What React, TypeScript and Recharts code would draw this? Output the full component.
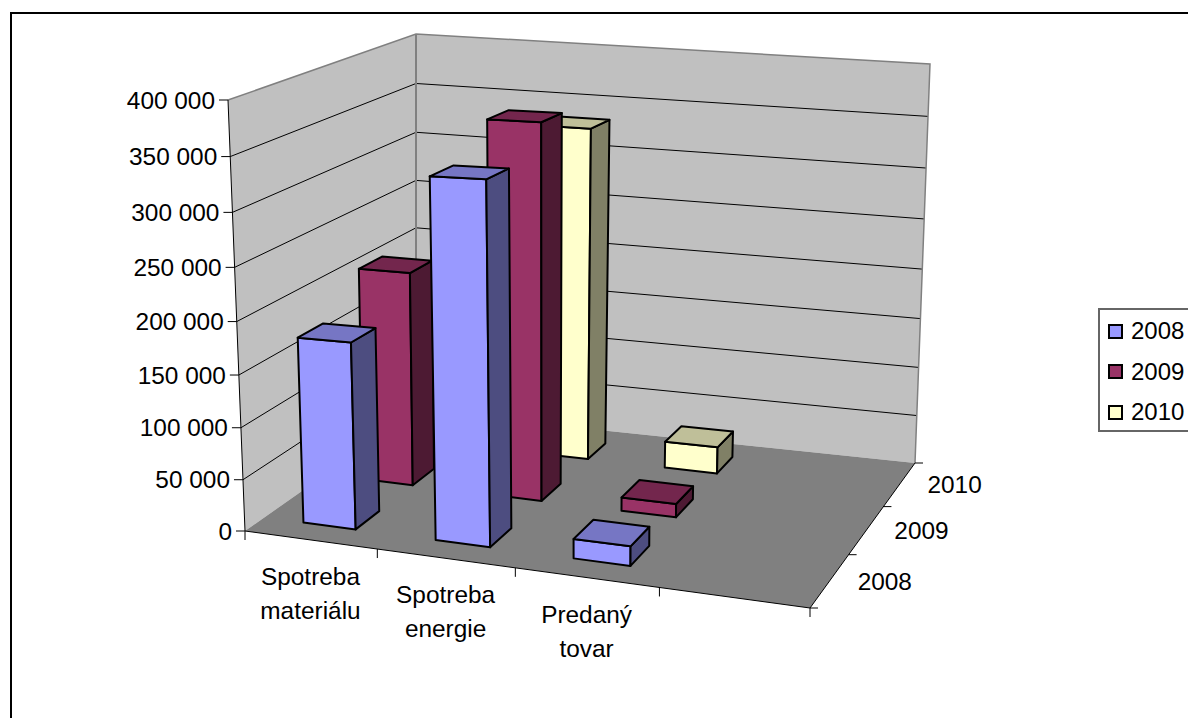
import { BarChart, Bar, XAxis, YAxis, Legend } from 'recharts';

const categories = [['Spotreba', 'materiálu'], ['Spotreba', 'energie'], ['Predaný', 'tovar'], ['', '']];
const categoryKeys = ['Spotreba materiálu', 'Spotreba energie', 'Predaný tovar', ' '];
const years = ['2008', '2009', '2010'];
const values2008 = [178000, 333000, 18000, null];
const values2009 = [211500, 361000, 13000, null];
const values2010 = [180000, 333500, 27000, null];
const yTicks = [0, 50000, 100000, 150000, 200000, 250000, 300000, 350000, 400000];
const depthTicks = [0, 0.5, 1, 1.5, 2, 2.5, 3];

const data = categoryKeys.map((name, i) => ({
  name,
  '2008': values2008[i],
  '2009': values2009[i],
  '2010': values2010[i],
}));

// front, side and top colours per series
const faces: Record<string, { front: string; side: string; top: string }> = {
  '2008': { front: '#9999FF', side: '#4D4D80', top: '#7676C4' },
  '2009': { front: '#993366', side: '#4D1A33', top: '#73264D' },
  '2010': { front: '#FFFFCC', side: '#808066', top: '#BFBF99' },
};

const WIDTH = 1188;
const HEIGHT = 718;
const PLOT = { left: 100, top: 100, width: 900, height: 500 };
const FONT = '"Liberation Sans", Arial, sans-serif';
const FONT_SIZE = 24.4;

// corners of the 3D box on screen
const CUBE = {
  A: [245, 531], // front bottom left
  B: [810, 608], // front bottom right
  D: [416, 411], // back bottom left
  C: [915, 463], // back bottom right
  E: [228, 100], // front top left
  H: [820, 120], // front top right
  F: [416, 34], // back top left
  G: [930, 64], // back top right
};

const ease = (t: number, k: number) => t / (1 + k * (1 - t));

const project = (uRaw: number, vRaw: number, wRaw: number) => {
  const u = ease(uRaw, 0.09);
  const v = ease(vRaw, 0.058);
  const w = ease(wRaw, -0.14);
  const mix = (i: number) => {
    const bottomFront = CUBE.A[i] + (CUBE.B[i] - CUBE.A[i]) * u;
    const bottomBack = CUBE.D[i] + (CUBE.C[i] - CUBE.D[i]) * u;
    const topFront = CUBE.E[i] + (CUBE.H[i] - CUBE.E[i]) * u;
    const topBack = CUBE.F[i] + (CUBE.G[i] - CUBE.F[i]) * u;
    const bottom = bottomFront + (bottomBack - bottomFront) * w;
    const top = topFront + (topBack - topFront) * w;
    return bottom + (top - bottom) * v;
  };
  return [mix(0), mix(1)];
};

const pts = (list: number[][]) => list.map((p) => p.join(',')).join(' ');
const toU = (x: number) => (x - PLOT.left) / PLOT.width;
const toV = (y: number) => (PLOT.top + PLOT.height - y) / PLOT.height;

const Walls = () => {
  const a = project(0, 0, 0);
  const b = project(1, 0, 0);
  const c = project(1, 0, 1);
  const d = project(0, 0, 1);
  const e = project(0, 1, 0);
  const f = project(0, 1, 1);
  const g = project(1, 1, 1);
  return (
    <g>
      <rect x={11} y={13} width={WIDTH + 100} height={HEIGHT + 100} fill="#fff" stroke="#000" strokeWidth={2} />
      <polygon points={pts([a, e, f, d])} fill="#C0C0C0" />
      <polygon points={pts([d, f, g, c])} fill="#C0C0C0" />
      <polygon points={pts([a, b, c, d])} fill="#808080" />
      {yTicks.slice(1, -1).map((t) => {
        const v = t / 400000;
        return (
          <polyline
            key={t}
            points={pts([project(0, v, 0), project(0, v, 1), project(1, v, 1)])}
            fill="none"
            stroke="#000"
            strokeWidth={1}
          />
        );
      })}
      <polyline points={pts([e, f, g, c])} fill="none" stroke="#808080" strokeWidth={1.5} />
      <line x1={d[0]} y1={d[1]} x2={f[0]} y2={f[1]} stroke="#808080" strokeWidth={2} />
      <line x1={a[0]} y1={a[1]} x2={e[0]} y2={e[1]} stroke="#000" strokeWidth={1} />
      <polyline points={pts([a, b, c])} fill="none" stroke="#000" strokeWidth={1} />
    </g>
  );
};

const Prism = (props: any) => {
  const { x, y, width, height, year, depth } = props;
  if (!height || !isFinite(height)) return null;
  const u0 = toU(x);
  const u1 = toU(x + width);
  const vt = toV(y);
  const w0 = (depth + 0.3) / 3;
  const w1 = (depth + 0.7) / 3;
  const c = faces[year];
  const stroke = { stroke: '#000', strokeWidth: 2, strokeLinejoin: 'round' as const };
  return (
    <g>
      <polygon
        points={pts([project(u0, 0, w0), project(u1, 0, w0), project(u1, vt, w0), project(u0, vt, w0)])}
        fill={c.front}
        {...stroke}
      />
      <polygon
        points={pts([project(u1, 0, w0), project(u1, 0, w1), project(u1, vt, w1), project(u1, vt, w0)])}
        fill={c.side}
        {...stroke}
      />
      <polygon
        points={pts([project(u0, vt, w0), project(u1, vt, w0), project(u1, vt, w1), project(u0, vt, w1)])}
        fill={c.top}
        {...stroke}
      />
    </g>
  );
};

const ValueTick = (props: any) => {
  const { y, payload } = props;
  const [sx, sy] = project(0, toV(y), 0);
  const label = payload.value === 0 ? '0' : `${payload.value / 1000} 000`;
  return (
    <g>
      <line x1={sx - 9} y1={sy} x2={sx} y2={sy} stroke="#000" strokeWidth={1} />
      <text x={sx - 13} y={sy + 8.5} textAnchor="end" fontFamily={FONT} fontSize={FONT_SIZE} fill="#000">
        {label}
      </text>
    </g>
  );
};

const CategoryTick = (props: any) => {
  const { x, index } = props;
  const band = PLOT.width / categories.length;
  const left = project(toU(x - band / 2), 0, 0);
  const mid = project(toU(x), 0, 0);
  const right = project(1, 0, 0);
  const isLast = index === categories.length - 1;
  const [l1, l2] = categories[index];
  return (
    <g>
      <line x1={left[0]} y1={left[1]} x2={left[0]} y2={left[1] + 9} stroke="#000" strokeWidth={1} />
      {isLast && <line x1={right[0]} y1={right[1]} x2={right[0]} y2={right[1] + 9} stroke="#000" strokeWidth={1} />}
      <text x={mid[0]} y={mid[1] + 45} textAnchor="middle" fontFamily={FONT} fontSize={FONT_SIZE} fill="#000">
        {l1}
      </text>
      <text x={mid[0]} y={mid[1] + 79} textAnchor="middle" fontFamily={FONT} fontSize={FONT_SIZE} fill="#000">
        {l2}
      </text>
    </g>
  );
};

const DepthTick = (props: any) => {
  const { payload } = props;
  const [sx, sy] = project(1, 0, payload.value / 3);
  if (Number.isInteger(payload.value)) {
    return <line x1={sx} y1={sy} x2={sx + 8} y2={sy} stroke="#000" strokeWidth={1} />;
  }
  return (
    <text x={sx + 55} y={sy + 9} textAnchor="middle" fontFamily={FONT} fontSize={FONT_SIZE} fill="#000">
      {years[Math.floor(payload.value)]}
    </text>
  );
};

const LegendBox = (props: any) => {
  const items = [...(props.payload ?? [])].sort((a: any, b: any) => String(a.value).localeCompare(String(b.value)));
  return (
    <div
      style={{
        boxSizing: 'border-box',
        width: 110,
        height: 124,
        background: '#fff',
        border: '2px solid #666',
        borderRight: 'none',
        fontFamily: FONT,
        fontSize: 24,
        paddingTop: 1,
      }}
    >
      {items.map((item: any) => (
        <div key={item.value} style={{ display: 'flex', alignItems: 'center', height: 40.5 }}>
          <span
            style={{
              boxSizing: 'border-box',
              width: 15,
              height: 15,
              marginLeft: 8,
              marginRight: 8,
              background: item.color,
              border: '2px solid #000',
            }}
          />
          <span>{item.value}</span>
        </div>
      ))}
    </div>
  );
};

export default function App() {
  return (
    <div style={{ position: 'absolute', left: 0, top: 0, width: WIDTH, height: HEIGHT, overflow: 'hidden', background: '#fff' }}>
      <BarChart
        width={WIDTH}
        height={HEIGHT}
        data={data}
        margin={{ top: PLOT.top - 1, left: PLOT.left - 1, right: WIDTH - PLOT.left - PLOT.width, bottom: HEIGHT - PLOT.top - PLOT.height - 1 }}
        barSize={90}
        barGap={-90}
      >
        <Walls />
        <XAxis dataKey="name" height={1} axisLine={false} tickLine={false} interval={0} tick={<CategoryTick />} />
        <XAxis
          xAxisId="depth"
          type="number"
          orientation="top"
          domain={[0, 3]}
          ticks={depthTicks}
          height={1}
          axisLine={false}
          tickLine={false}
          interval={0}
          tick={<DepthTick />}
        />
        <YAxis width={1} domain={[0, 400000]} ticks={yTicks} axisLine={false} tickLine={false} interval={0} tick={<ValueTick />} />
        <Legend
          layout="vertical"
          align="center"
          verticalAlign="middle"
          content={<LegendBox />}
          wrapperStyle={{ left: 1098, top: 308, width: 110, height: 124 }}
        />
        {[...years].reverse().map((year) => (
          <Bar
            key={year}
            dataKey={year}
            name={year}
            fill={faces[year].front}
            isAnimationActive={false}
            shape={(p: any) => <Prism {...p} year={year} depth={years.indexOf(year)} />}
          />
        ))}
      </BarChart>
    </div>
  );
}
